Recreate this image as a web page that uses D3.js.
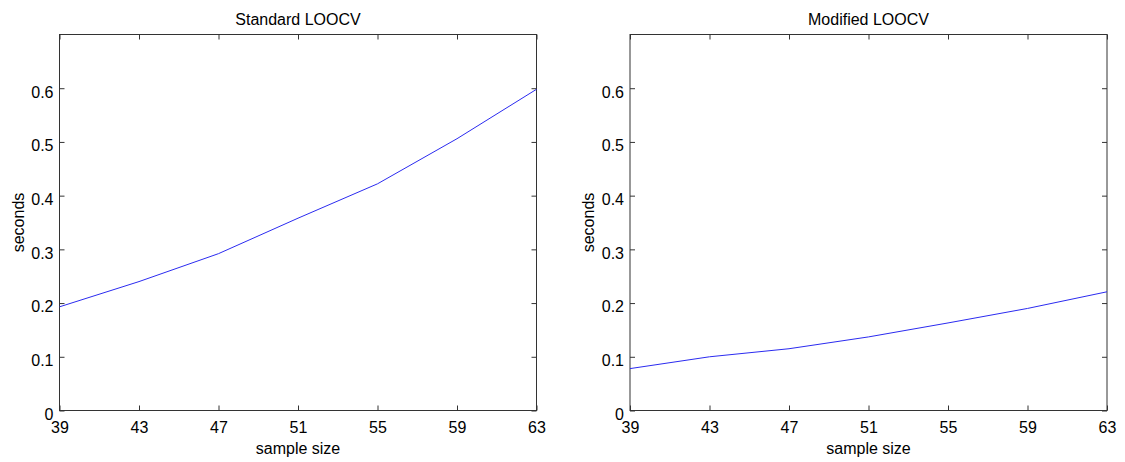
<!DOCTYPE html>
<html>
<head>
<meta charset="utf-8">
<script src="https://cdn.jsdelivr.net/npm/d3@7"></script>
<style>
  html, body { margin: 0; padding: 0; background: #fff; }
  svg { display: block; }
  text { font-family: "Liberation Sans", Arial, Helvetica, sans-serif; fill: #000; }
</style>
</head>
<body>
<svg id="chart" width="1125" height="462"></svg>
<script>
// ---- data ----
const sampleSizes = [39, 43, 47, 51, 55, 59, 63];
const standardSeconds = [0.193, 0.240, 0.292, 0.358, 0.422, 0.506, 0.598];
const modifiedSeconds = [0.078, 0.100, 0.115, 0.137, 0.163, 0.190, 0.221];
const xTicks = [39, 43, 47, 51, 55, 59, 63];
const yTicks = [0, 0.1, 0.2, 0.3, 0.4, 0.5, 0.6];
const titles = ["Standard LOOCV", "Modified LOOCV"];
const xLabel = "sample size";
const yLabel = "seconds";

(function () {
const svg = d3.select("#chart");
const panels = [
  { left: 59.5, right: 536.5, title: titles[0], values: standardSeconds },
  { left: 630, right: 1107, title: titles[1], values: modifiedSeconds }
];
const plotTop = 34.5, plotBottom = 410.5;
const axisColor = "#333";

panels.forEach(p => {
  const x = d3.scaleLinear().domain([39, 63]).range([p.left, p.right]);
  const y = d3.scaleLinear().domain([0, 0.7]).range([plotBottom, plotTop]);
  const g = svg.append("g");

  g.append("rect")
    .attr("x", p.left).attr("y", plotTop)
    .attr("width", p.right - p.left).attr("height", plotBottom - plotTop)
    .attr("fill", "none").attr("stroke", axisColor).attr("stroke-width", 1);

  const xb = g.append("g").attr("transform", `translate(0,${plotBottom})`)
    .call(d3.axisBottom(x).tickValues(xTicks).tickFormat(d3.format("d"))
      .tickSizeInner(-5).tickSizeOuter(0).tickPadding(11));
  const xt = g.append("g").attr("transform", `translate(0,${plotTop})`)
    .call(d3.axisTop(x).tickValues(xTicks).tickFormat("")
      .tickSizeInner(-5).tickSizeOuter(0));
  const yl = g.append("g").attr("transform", `translate(${p.left},0)`)
    .call(d3.axisLeft(y).tickValues(yTicks).tickFormat(d => d === 0 ? "0" : d3.format(".1f")(d))
      .tickSizeInner(-5).tickSizeOuter(0).tickPadding(6));
  const yr = g.append("g").attr("transform", `translate(${p.right},0)`)
    .call(d3.axisRight(y).tickValues(yTicks).tickFormat("")
      .tickSizeInner(-5).tickSizeOuter(0));

  [xb, xt, yl, yr].forEach(a => {
    a.select(".domain").remove();
    a.selectAll("line").attr("stroke", axisColor);
    a.selectAll("text").attr("font-size", 16)
      .attr("font-family", '"Liberation Sans", Arial, sans-serif').attr("fill", "#000");
  });
  yl.selectAll("text").attr("dy", "0.55em");

  const line = d3.line().x((d, i) => x(sampleSizes[i])).y(d => y(d));
  g.append("path").datum(p.values)
    .attr("d", line).attr("fill", "none")
    .attr("stroke", "#2b2bf0").attr("stroke-width", 1);

  g.append("text")
    .attr("x", (p.left + p.right) / 2).attr("y", 25)
    .attr("text-anchor", "middle").attr("font-size", 16)
    .text(p.title);

  g.append("text")
    .attr("x", (p.left + p.right) / 2).attr("y", 454)
    .attr("text-anchor", "middle").attr("font-size", 16)
    .text(xLabel);

  g.append("text")
    .attr("transform", `translate(${p.left - 36},${(plotTop + plotBottom) / 2}) rotate(-90)`)
    .attr("text-anchor", "middle").attr("font-size", 16)
    .text(yLabel);
});
})();
</script>
</body>
</html>
